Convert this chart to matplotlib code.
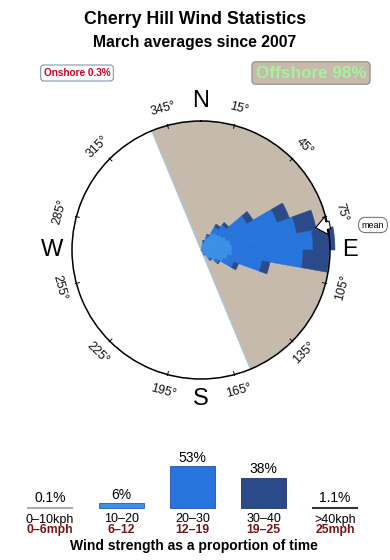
import numpy as np
import matplotlib
matplotlib.use("Agg")
import matplotlib.pyplot as plt

plt.rcParams['font.family'] = ['Liberation Sans', 'DejaVu Sans']

# rose data: sector centre bearings (deg) and radial length per speed class
bearings = [15, 25, 35, 45, 55, 65, 75, 85, 95, 105, 115, 125, 135, 145]
len_0_10 = [1, 1, 1, 1, 1, 2, 2, 2, 2, 2, 1, 1, 1, 1]
len_10_20 = [6, 12, 19, 21, 23, 25, 28, 29, 29, 25, 23, 16, 10, 4]
len_20_30 = [2, 3, 7, 11, 29, 54, 67, 81, 71, 35, 11, 4, 2, 1]
len_30_40 = [1, 1, 3, 3, 7, 13, 20, 22, 26, 8, 5, 1, 1, 0]
rose_max = 129
mean_dir = 79
offshore_start, offshore_end = 337.5, 157.5

# strength summary
classes_kph = ['0\u201310kph', '10\u201320', '20\u201330', '30\u201340', '>40kph']
classes_mph = ['0\u20136mph', '6\u201312', '12\u201319', '19\u201325', '25mph']
share = [0.1, 6, 53, 38, 1.1]
share_txt = ['0.1%', '6%', '53%', '38%', '1.1%']

c_0_10 = '#3fd6ee'
c_10_20 = '#3a8fe6'
c_20_30 = '#2674dc'
c_30_40 = '#2b4a8a'
c_land = '#c6baad'

fig = plt.figure(figsize=(3.9, 5.6), dpi=100)

fig.text(0.5, 1 - 20 / 560, 'Cherry Hill Wind Statistics', ha='center', va='center',
         fontsize=12.8, fontweight='bold')
fig.text(0.5, 1 - 42 / 560, 'March averages since 2007', ha='center', va='center',
         fontsize=11.3, fontweight='bold')
fig.text(77 / 390, 1 - 73 / 560, 'Onshore 0.3%', ha='center', va='center', fontsize=7.2,
         fontweight='bold', color='#cc0022',
         bbox=dict(boxstyle='round,pad=0.3', fc='white', ec='#7088a8', lw=0.7))
fig.text(311 / 390, 1 - 73 / 560, 'Offshore 98%', ha='center', va='center', fontsize=12.3,
         fontweight='bold', color='#a6f29c',
         bbox=dict(boxstyle='round,pad=0.22', fc=c_land, ec='#8a8078', lw=0.7))

# wind rose
cx, cy, R = 201, 250, 129
ax = fig.add_axes([(cx - R) / 390, 1 - (cy + R) / 560, 2 * R / 390, 2 * R / 560],
                  projection='polar')
ax.set_theta_zero_location('N')
ax.set_theta_direction(-1)
ax.set_ylim(0, rose_max)
ax.set_xticks([])
ax.set_yticks([])
ax.grid(False)
ax.spines['polar'].set_linewidth(1.1)

span = (offshore_end - offshore_start) % 360
ax.bar(np.deg2rad(offshore_start + span / 2), rose_max, width=np.deg2rad(span),
       color=c_land, edgecolor='none', zorder=1)
for b in (offshore_start, offshore_end):
    ax.plot([np.deg2rad(b)] * 2, [0, rose_max], color='#a8c8e6', lw=0.8, zorder=1)

th = np.deg2rad(bearings)
w = np.deg2rad(10)
bottom = np.zeros(len(bearings))
for vals, col in [(len_0_10, c_0_10), (len_10_20, c_10_20),
                  (len_20_30, c_20_30), (len_30_40, c_30_40)]:
    ax.bar(th, vals, width=w, bottom=bottom, color=col, edgecolor=col, lw=0.3,
           zorder=2, clip_on=False)
    bottom += np.array(vals)

ax.annotate('', xy=(np.deg2rad(mean_dir), 114), xytext=(np.deg2rad(mean_dir), 134),
            arrowprops=dict(arrowstyle='simple,head_width=1.3,head_length=0.8,tail_width=0.55',
                            mutation_scale=10, fc='white', ec='black', lw=0.8),
            annotation_clip=False, zorder=5)
fig.text(373 / 390, 1 - 225 / 560, 'mean', ha='center', va='center', fontsize=6.5,
         bbox=dict(boxstyle='round,pad=0.35,rounding_size=0.8', fc='white', ec='#666666', lw=0.7))

for deg in range(15, 360, 30):
    t = np.deg2rad(deg)
    ax.plot([t, t], [rose_max - 3, rose_max + 1], color='black', lw=0.7, clip_on=False)
    rot = -deg if (deg < 90 or deg > 270) else 180 - deg
    rot = (rot + 180) % 360 - 180
    ax.text(t, 146, '%d\u00b0' % deg, ha='center', va='center', rotation=rot,
            rotation_mode='anchor', fontsize=9, color='#111111', clip_on=False)

for lab, deg in [('N', 0), ('E', 90), ('S', 180), ('W', 270)]:
    ax.text(np.deg2rad(deg), 149, lab, ha='center', va='center', fontsize=17, clip_on=False)

# strength bars
bx = fig.add_axes([0, 0, 1, 120 / 560])
pos = np.arange(len(share))
bx.set_xlim(-50 / 71.25, 340 / 71.25)
k = 1 / 0.792
bx.set_ylim(-52 * k, 68 * k)
bx.axis('off')
bx.bar(pos[1:4], share[1:4], width=0.63, color=[c_10_20, c_20_30, c_30_40],
       edgecolor=['#1f5fb0', '#1c55a8', '#1e3468'], lw=0.6)
bx.plot([pos[0] - 0.315, pos[0] + 0.315], [0.3, 0.3], color='#a8b0b6', lw=1.5)
bx.plot([pos[4] - 0.315, pos[4] + 0.315], [0.3, 0.3], color='#333333', lw=1.5)
for i in pos:
    top = max(share[i], 2.5)
    bx.text(i, top + 8.5 * k, share_txt[i], ha='center', va='center', fontsize=10)
    bx.text(i, -11.5 * k, classes_kph[i], ha='center', va='center', fontsize=9)
    bx.text(i, -22 * k, classes_mph[i], ha='center', va='center', fontsize=8.8,
            fontweight='bold', color='#7a1414')
bx.text(193.5 / 71.25 - 50 / 71.25, -38 * k, 'Wind strength as a proportion of time',
        ha='center', va='center', fontsize=10, fontweight='bold')

fig.savefig('out.png', dpi=100)
